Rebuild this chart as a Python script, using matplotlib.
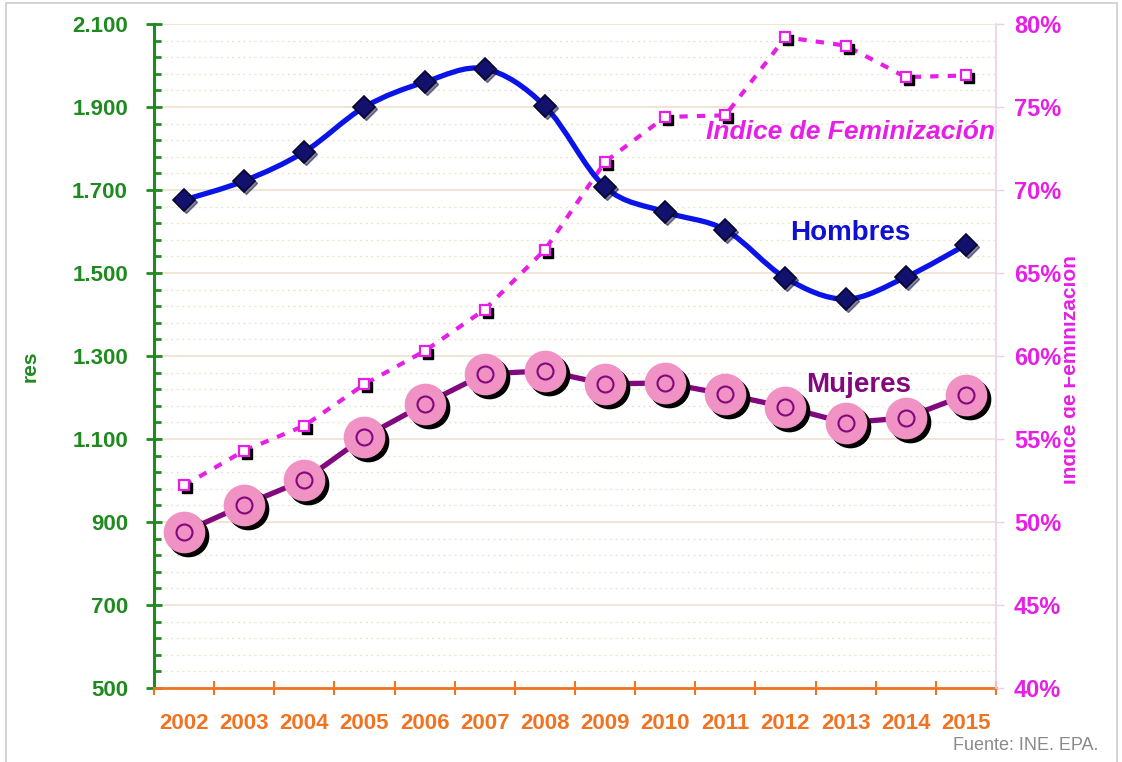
"""
Ocupados por sexo (miles) e indice de feminizacion, 2002-2015.
"""

import matplotlib
matplotlib.use("Agg")
import matplotlib.pyplot as plt
import matplotlib.transforms as mtransforms
from matplotlib.path import Path
from matplotlib.patches import PathPatch, Rectangle
from matplotlib.ticker import FuncFormatter, MultipleLocator, FixedLocator
import numpy as np

##########################
## Data

years = ['2002', '2003', '2004', '2005', '2006', '2007', '2008',
         '2009', '2010', '2011', '2012', '2013', '2014', '2015']

hombres = [1676, 1722, 1792, 1900, 1960, 1992, 1902,
           1707, 1647, 1604, 1488, 1437, 1490, 1568]

mujeres = [876, 941, 1001, 1105, 1184, 1257, 1264,
           1233, 1235, 1208, 1177, 1139, 1151, 1206]

indice = [52.2, 54.3, 55.8, 58.3, 60.3, 62.8, 66.4,
          71.7, 74.4, 74.5, 79.2, 78.7, 76.8, 76.9]

##########################
## Colors

c_green = '#1f8a1f'
c_orange = '#f07322'
c_magenta = '#e61ee6'
c_blue = '#0a14e6'
c_navy = '#12126e'
c_purple = '#82087e'
c_pink = '#f092c4'

plt.rcParams['font.family'] = ['Liberation Sans', 'DejaVu Sans']

fig = plt.figure(figsize=(11.22, 7.62), dpi=100)
ax = fig.add_axes([154 / 1122, 1 - 688 / 762, (996 - 154) / 1122, (688 - 24) / 762])
ax2 = ax.twinx()

x = np.arange(len(years))

# grid
ax.set_ylim(500, 2100)
ax.set_xlim(-0.5, len(years) - 0.5)
ax.yaxis.set_major_locator(FixedLocator(np.arange(500, 2101, 200)))
ax.yaxis.set_minor_locator(FixedLocator(np.arange(500, 2101, 40)))
ax.grid(axis='y', which='major', color='#f1e3d2', lw=1.3)
ax.grid(axis='y', which='minor', color='#ece6c8', lw=1.0, ls=(0, (1.5, 2.5)))
ax.set_axisbelow(True)

ax.yaxis.set_major_formatter(FuncFormatter(lambda v, p: f'{int(v):,}'.replace(',', '.')))
ax.tick_params(axis='y', which='major', direction='inout', length=11.5, width=2,
               color=c_green, labelcolor=c_green, labelsize=16, pad=13)
ax.tick_params(axis='y', which='minor', direction='in', length=5, width=2, color=c_green)
for t in ax.get_yticklabels():
    t.set_fontweight('bold')

ax.xaxis.set_major_locator(FixedLocator(np.arange(len(years) + 1) - 0.5))
ax.xaxis.set_major_formatter(FuncFormatter(lambda v, p: ''))
ax.set_xticks(x, minor=True)
ax.set_xticklabels(years, minor=True)
ax.tick_params(axis='x', which='major', direction='inout', length=10, width=1.5, color=c_orange)
ax.tick_params(axis='x', which='minor', length=0, labelcolor=c_orange, labelsize=16, pad=18)
for t in ax.get_xticklabels(minor=True):
    t.set_fontweight('bold')

ax.spines['top'].set_visible(False)
ax2.spines['top'].set_visible(False)
ax.spines['left'].set_color(c_green)
ax.spines['left'].set_linewidth(2.2)
ax.spines['bottom'].set_color(c_orange)
ax.spines['bottom'].set_linewidth(2)
ax.spines['right'].set_visible(False)
ax2.spines['left'].set_visible(False)
ax2.spines['bottom'].set_visible(False)
ax2.spines['right'].set_color('#ead0ea')
ax2.spines['right'].set_linewidth(1.2)

ax2.set_ylim(40, 80)
ax2.yaxis.set_major_locator(MultipleLocator(5))
ax2.yaxis.set_major_formatter(FuncFormatter(lambda v, p: f'{int(v)}%'))
ax2.tick_params(axis='y', direction='out', length=6, width=1, color='#ead0ea',
                labelcolor=c_magenta, labelsize=17, pad=7)
for t in ax2.get_yticklabels():
    t.set_fontweight('bold')

# indice de feminizacion (dotted line, squares with shadow)
sh3 = mtransforms.offset_copy(ax2.transData, fig=fig, x=3, y=-3, units='dots')
ax2.plot(x, indice, color=c_magenta, lw=3, ls=(0, (2, 2.2)), zorder=2)
ax2.plot(x, indice, ls='none', marker='s', ms=7.5, mfc='black', mec='black',
         transform=sh3, zorder=3)
ax2.plot(x, indice, ls='none', marker='s', ms=7.5, mfc='white', mec=c_magenta,
         mew=1.6, zorder=4)

# hombres: smoothed line through points (Catmull-Rom -> cubic Bezier)
px = np.array(x, dtype=float)
py = np.array(hombres, dtype=float)
verts = [(px[0], py[0])]
codes = [Path.MOVETO]
n = len(px)
for i in range(n - 1):
    p0 = (px[max(i - 1, 0)], py[max(i - 1, 0)])
    p1 = (px[i], py[i])
    p2 = (px[i + 1], py[i + 1])
    p3 = (px[min(i + 2, n - 1)], py[min(i + 2, n - 1)])
    c1 = (p1[0] + (p2[0] - p0[0]) / 6, p1[1] + (p2[1] - p0[1]) / 6)
    c2 = (p2[0] - (p3[0] - p1[0]) / 6, p2[1] - (p3[1] - p1[1]) / 6)
    verts += [c1, c2, p2]
    codes += [Path.CURVE4] * 3
ax2.add_patch(PathPatch(Path(verts, codes), transform=ax.transData, fill=False,
                        edgecolor=c_blue, lw=3.8, capstyle='round', zorder=5))
sh2 = mtransforms.offset_copy(ax.transData, fig=fig, x=2, y=-2, units='dots')
ax2.plot(x, hombres, ls='none', marker='D', ms=11, mfc='#0a0a40', mec='#0a0a40',
         transform=sh2, zorder=6, alpha=0.5)
ax2.plot(x, hombres, ls='none', marker='D', ms=11, mfc=c_navy, mec='#05052e',
         mew=1.2, transform=ax.transData, zorder=7)

# mujeres: big pink circles with shadow
sh4 = mtransforms.offset_copy(ax.transData, fig=fig, x=4, y=-4, units='dots')
ax2.plot(x, mujeres, color=c_purple, lw=3.8, transform=ax.transData, zorder=5)
ax2.plot(x, mujeres, ls='none', marker='o', ms=29, mfc='black', mec='black',
         transform=sh4, zorder=6)
ax2.plot(x, mujeres, ls='none', marker='o', ms=29, mfc=c_pink, mec=c_pink,
         transform=ax.transData, zorder=7)
ax2.plot(x, mujeres, ls='none', marker='o', ms=11.5, mfc='none', mec=c_purple,
         mew=1.5, transform=ax.transData, zorder=8)

# series labels
fig.text(851 / 1122, 1 - 132 / 762, 'Indice de Feminización', color=c_magenta,
         fontsize=19, fontweight='bold', fontstyle='italic', ha='center', va='center')
fig.text(850 / 1122, 1 - 233 / 762, 'Hombres', color='#1010d0', fontsize=20,
         fontweight='bold', ha='center', va='center')
fig.text(859 / 1122, 1 - 385 / 762, 'Mujeres', color=c_purple, fontsize=20,
         fontweight='bold', ha='center', va='center')

# partially hidden axis titles
yl = fig.text(30 / 1122, 1 - 366 / 762, 'res', color=c_green, fontsize=15,
              fontweight='bold', rotation=90, ha='center', va='center')
yl.set_clip_box(mtransforms.Bbox([[18, 0], [36, 762]]))
yl.set_clip_on(True)
rl = fig.text(1070 / 1122, 1 - 370 / 762, 'Indice de Feminización', color=c_magenta,
              fontsize=15, fontweight='bold', rotation=90, ha='center', va='center')
rl.set_clip_box(mtransforms.Bbox([[1064, 0], [1075, 762]]))
rl.set_clip_on(True)

fig.text(1098 / 1122, 1 - 745 / 762, 'Fuente: INE. EPA.', color='#8a8a8a',
         fontsize=13, ha='right', va='center')

# outer frame
fig.patches.append(Rectangle((6 / 1122, -0.01), 1111 / 1122, 1 - 3 / 762 + 0.01,
                             transform=fig.transFigure, fill=False,
                             edgecolor='#cccccc', lw=1.2))

ax.set_zorder(1)
ax2.set_zorder(2)
ax2.patch.set_visible(False)

plt.savefig('out.png', dpi=100)
